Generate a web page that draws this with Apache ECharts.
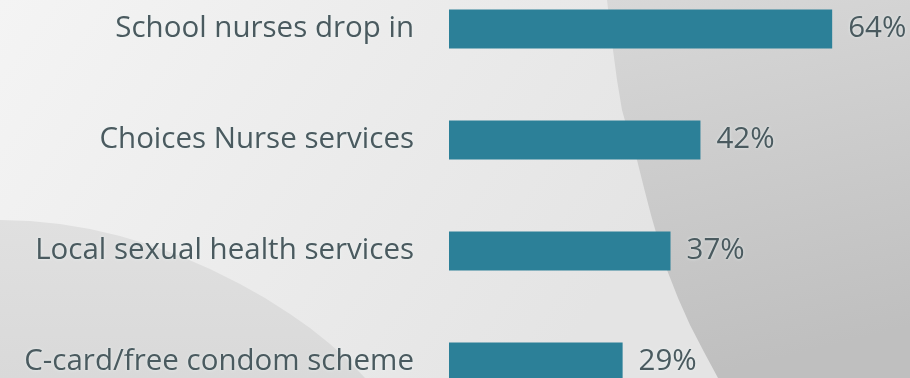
<!DOCTYPE html>
<html>
<head>
<meta charset="utf-8">
<script src="https://cdn.jsdelivr.net/npm/echarts@6/dist/echarts.min.js"></script>
<style>
  html, body { margin: 0; padding: 0; background: #ececec; }
  #chart { width: 910px; height: 378px; }
</style>
</head>
<body>
<div id="chart"></div>
<script>
// Services used, share of respondents (%)
const categories = [
  'School nurses drop in',
  'Choices Nurse services',
  'Local sexual health services',
  'C-card/free condom scheme'
];
const values = [64, 42, 37, 29];

const barColor = '#2c8098';
const textColor = '#4a5a5f';
const fontFamily = '"Open Sans", "Noto Sans", sans-serif';

function linear(x2, y2, stops) {
  return { type: 'linear', x: 0, y: 0, x2: x2, y2: y2, colorStops: stops };
}

const textStyle = {
  color: textColor,
  fontSize: 29.5,
  fontFamily: fontFamily,
  textShadowColor: 'rgba(235,245,245,0.8)',
  textShadowBlur: 3
};

const chart = echarts.init(document.getElementById('chart'), null, { renderer: 'canvas' });

chart.setOption({
  animation: false,
  backgroundColor: 'transparent',
  graphic: [
    // soft slide-style backdrop
    {
      type: 'rect', z: -10, silent: true,
      shape: { x: 0, y: 0, width: 910, height: 378 },
      style: {
        fill: linear(0.6, 1, [
          { offset: 0, color: '#f4f4f4' },
          { offset: 1, color: '#e4e4e4' }
        ])
      }
    },
    {
      type: 'polygon', z: -9, silent: true,
      shape: {
        points: [[0, 220], [30, 221], [60, 224], [90, 229], [120, 236], [150, 245], [180, 256], [210, 269],
                 [240, 284], [265, 298], [290, 314], [310, 328], [330, 344], [348, 360], [365, 378], [0, 378]]
      },
      style: {
        fill: linear(0, 1, [
          { offset: 0, color: '#e0e0e0' },
          { offset: 1, color: '#d9d9d9' }
        ])
      }
    },
    {
      type: 'polygon', z: -9, silent: true,
      shape: {
        points: [[607, 0], [610, 25], [613, 50], [617, 80], [622, 110], [629, 135], [637, 160], [644, 188],
                 [651, 215], [659, 243], [667, 270], [678, 298], [690, 325], [704, 352], [718, 378], [910, 378], [910, 0]]
      },
      style: {
        fill: linear(0.3, 1, [
          { offset: 0, color: '#d8d8d8' },
          { offset: 1, color: '#bfbfbf' }
        ])
      }
    }
  ],
  // category points sit on the grid edges, so the first and last bars
  // line up with the top and bottom of the grid box
  grid: { left: 449, right: 0, top: 29, bottom: 16 },
  xAxis: {
    type: 'value', min: 0, max: 77, show: false
  },
  yAxis: {
    type: 'category',
    data: categories,
    inverse: true,
    boundaryGap: false,
    axisLine: { show: false },
    axisTick: { show: false },
    splitLine: { show: false },
    axisLabel: Object.assign({ margin: 35 }, textStyle)
  },
  series: [{
    type: 'bar',
    data: values,
    barWidth: 39,
    itemStyle: { color: barColor },
    label: Object.assign({
      show: true,
      position: 'right',
      distance: 16,
      formatter: '{c}%'
    }, textStyle)
  }]
});
</script>
</body>
</html>
